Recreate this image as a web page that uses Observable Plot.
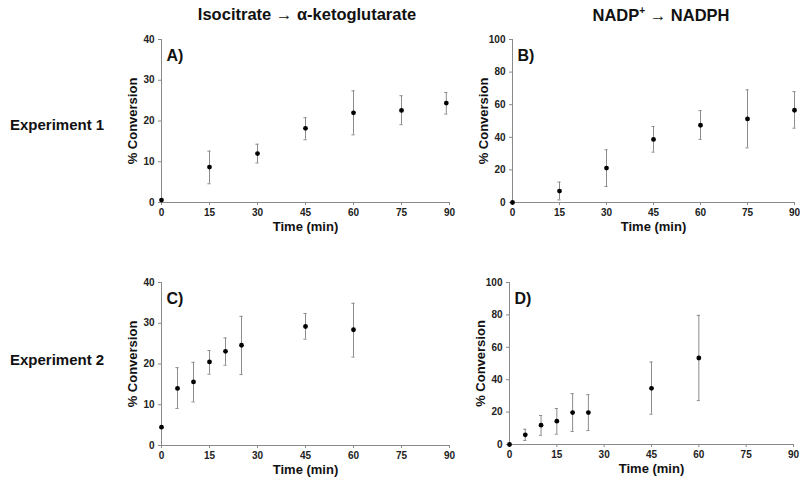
<!DOCTYPE html>
<html>
<head>
<meta charset="utf-8">
<script src="https://cdn.jsdelivr.net/npm/d3@7"></script>
<script src="https://cdn.jsdelivr.net/npm/@observablehq/plot@0.6"></script>
<style>
  body { margin: 0; background: white; font-family: "Liberation Sans", Arial, sans-serif; }
  #fig { position: relative; width: 800px; height: 479px; overflow: hidden; }
  .lbl { position: absolute; font-weight: bold; color: #111; white-space: nowrap; }
  .panel { position: absolute; }
  .panel svg { background: transparent !important; overflow: visible; }
</style>
</head>
<body>
<div id="fig">
  <div class="lbl" style="left:307px;top:5px;font-size:16.5px;transform:translateX(-50%)">Isocitrate → α-ketoglutarate</div>
  <div class="lbl" style="left:661px;top:5px;font-size:16.5px;transform:translateX(-50%)">NADP<sup style="font-size:10px">+</sup> → NADPH</div>
  <div class="lbl" style="left:10px;top:116px;font-size:15px">Experiment 1</div>
  <div class="lbl" style="left:10px;top:351px;font-size:15px">Experiment 2</div>
  <div class="panel" id="pA" style="left:95px;top:30px"></div>
  <div class="panel" id="pB" style="left:450px;top:30px"></div>
  <div class="panel" id="pC" style="left:95px;top:273px"></div>
  <div class="panel" id="pD" style="left:450px;top:273px"></div>
</div>
<script>
// Experiment 1, isocitrate -> alpha-ketoglutarate (panel A)
const timeA = [0, 15, 30, 45, 60, 75, 89]
const convA = [0.6, 8.7, 12.0, 18.2, 22.0, 22.6, 24.4]
const loA   = [0.6, 4.6, 9.7, 15.4, 16.6, 19.1, 21.7]
const hiA   = [0.6, 12.6, 14.3, 20.8, 27.4, 26.2, 27.0]

// Experiment 1, NADP+ -> NADPH (panel B)
const timeB = [0, 15, 30, 45, 60, 75, 90]
const convB = [0, 7.0, 21.1, 38.7, 47.4, 51.3, 56.6]
const loB   = [0, 1.6, 9.8, 30.9, 38.7, 33.5, 45.6]
const hiB   = [0, 12.5, 32.3, 46.6, 56.4, 69.1, 68.0]

// Experiment 2, isocitrate -> alpha-ketoglutarate (panel C)
const timeC = [0, 5, 10, 15, 20, 25, 45, 60]
const convC = [4.5, 14.0, 15.6, 20.5, 23.1, 24.6, 29.2, 28.4]
const loC   = [4.5, 9.1, 10.7, 17.5, 19.7, 17.4, 26.1, 21.7]
const hiC   = [4.5, 19.1, 20.4, 23.3, 26.4, 31.7, 32.4, 34.9]

// Experiment 2, NADP+ -> NADPH (panel D)
const timeD = [0, 5, 10, 15, 20, 25, 45, 60]
const convD = [0, 6.0, 11.9, 14.4, 19.7, 19.7, 34.7, 53.4]
const loD   = [0, 2.5, 5.7, 6.4, 8.0, 8.6, 18.7, 27.1]
const hiD   = [0, 9.4, 17.9, 22.2, 31.4, 30.8, 50.9, 79.7]

const timeTicks = [0, 15, 30, 45, 60, 75, 90]
const ticksLow = [0, 10, 20, 30, 40]
const ticksHigh = [0, 20, 40, 60, 80, 100]

const rows = (t, v, lo, hi) => t.map((d, i) => ({t: d, v: v[i], lo: lo[i], hi: hi[i]}))

function panel(sel, opts) {
  const data = rows(opts.t, opts.v, opts.lo, opts.hi)
  const withErr = data.filter(d => d.hi - d.lo > 0.5)
  const axisColor = "#8a8a8a"
  const chart = Plot.plot({
    width: opts.width, height: opts.height,
    marginLeft: opts.ml, marginRight: opts.mr, marginTop: opts.mt, marginBottom: opts.mb,
    style: {fontFamily: "Liberation Sans, Arial, sans-serif", background: "transparent", color: "#111"},
    x: {domain: [0, 90]},
    y: {domain: opts.ydomain},
    marks: [
      Plot.ruleY([0], {stroke: axisColor}),
      Plot.ruleX([0], {stroke: axisColor}),
      Plot.axisX({ticks: timeTicks, tickSize: 3, tickPadding: 3, stroke: axisColor,
        fontSize: 10, fontWeight: "bold", label: null, fill: "#222"}),
      Plot.axisY({ticks: opts.yticks, tickSize: 3, tickPadding: 4, stroke: axisColor,
        fontSize: 10, fontWeight: "bold", label: null, fill: "#222"}),
      Plot.text(["Time (min)"], {frameAnchor: "bottom", dy: 28, fontSize: 13, fontWeight: "bold", fill: "#111"}),
      Plot.text(["% Conversion"], {frameAnchor: "left", textAnchor: "middle", rotate: -90, dx: -29,
        fontSize: 13, fontWeight: "bold", fill: "#111"}),
      Plot.text([opts.tag], {frameAnchor: "top-left", textAnchor: "start", dx: 5, dy: 10,
        fontSize: 16, fontWeight: "bold", fill: "#111"}),
      Plot.ruleX(withErr, {x: "t", y1: "lo", y2: "hi", stroke: "#8c8c8c", strokeWidth: 1}),
      Plot.ruleY(withErr, {y: "hi", x1: d => d.t - 0.5, x2: d => d.t + 0.5, stroke: "#8c8c8c"}),
      Plot.ruleY(withErr, {y: "lo", x1: d => d.t - 0.5, x2: d => d.t + 0.5, stroke: "#8c8c8c"}),
      Plot.dot(data, {x: "t", y: "v", r: 2.4, fill: "#000", stroke: "none"})
    ]
  })
  d3.select(sel).append(() => chart)
}

panel("#pA", {t: timeA, v: convA, lo: loA, hi: hiA, tag: "A)", ydomain: [0, 40], yticks: ticksLow,
  width: 365, height: 215, ml: 66, mr: 11, mt: 9, mb: 43})
panel("#pB", {t: timeB, v: convB, lo: loB, hi: hiB, tag: "B)", ydomain: [0, 100], yticks: ticksHigh,
  width: 350, height: 215, ml: 62, mr: 6, mt: 9, mb: 43})
panel("#pC", {t: timeC, v: convC, lo: loC, hi: hiC, tag: "C)", ydomain: [0, 40], yticks: ticksLow,
  width: 365, height: 205, ml: 66, mr: 11, mt: 9, mb: 33})
panel("#pD", {t: timeD, v: convD, lo: loD, hi: hiD, tag: "D)", ydomain: [0, 100], yticks: ticksHigh,
  width: 350, height: 205, ml: 59, mr: 7, mt: 9, mb: 34})
</script>
</body>
</html>
